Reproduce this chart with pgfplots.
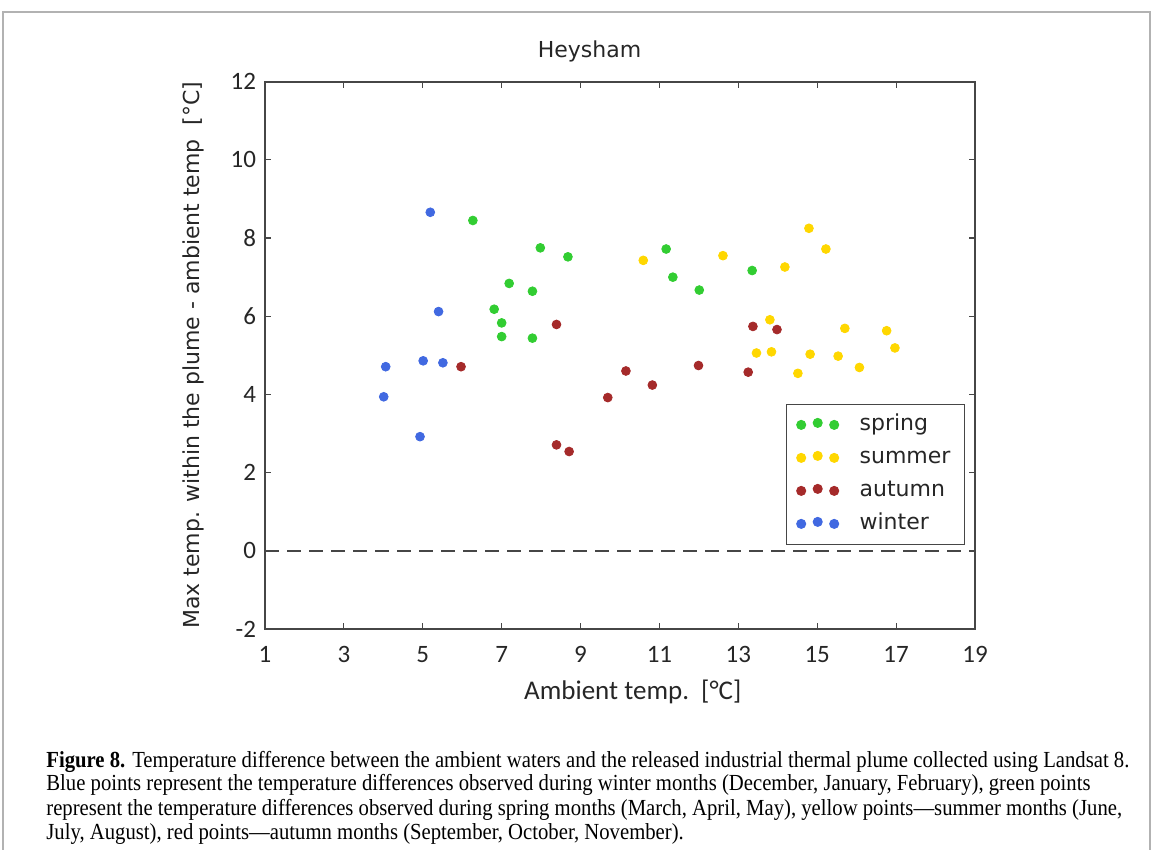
\documentclass[border=0pt]{standalone}
\usepackage{pgfplots}
\pgfplotsset{compat=1.18}
\usepackage{fontspec}
\setmainfont{DejaVu Sans}
\newfontfamily\calfont{Carlito}
\newfontfamily\capfont[FakeStretch=0.9]{Liberation Serif}
\definecolor{cspring}{RGB}{50,205,50}
\definecolor{csummer}{RGB}{255,215,0}
\definecolor{cautumn}{RGB}{165,42,42}
\definecolor{cwinter}{RGB}{65,105,225}
\definecolor{axgray}{RGB}{70,70,70}
\pgfplotstableread{
x y
6.27 8.45
7.98 7.75
8.68 7.52
7.19 6.84
7.78 6.64
6.81 6.18
7.00 5.83
7.00 5.48
7.78 5.44
11.17 7.72
11.34 7.00
12.01 6.67
13.35 7.17
}\spring
\pgfplotstableread{
x y
10.59 7.43
12.61 7.55
14.18 7.26
14.79 8.25
15.22 7.72
13.80 5.91
13.46 5.06
13.84 5.09
14.82 5.03
15.53 4.98
14.51 4.54
15.70 5.69
16.76 5.63
16.97 5.19
16.07 4.69
}\summer
\pgfplotstableread{
x y
5.97 4.71
8.39 5.79
13.37 5.74
13.98 5.66
13.25 4.57
11.99 4.74
10.15 4.60
10.82 4.24
9.69 3.92
8.39 2.71
8.71 2.54
}\autumn
\pgfplotstableread{
x y
5.19 8.66
5.40 6.12
4.06 4.71
5.01 4.86
5.51 4.81
4.01 3.94
4.93 2.92
}\winter
\begin{document}
\begin{tikzpicture}
\path[use as bounding box] (0,0) rectangle (576.5pt,-425pt);
\draw[gray!60, line width=0.8pt] (1.5pt,-425pt) -- (1.5pt,-6pt) -- (575pt,-6pt) -- (575pt,-425pt);
\node[anchor=base, font=\fontsize{11}{13}\selectfont, text=black!85] at (294.75pt,-29pt) {Heysham};
\begin{axis}[
  at={(132.5pt,-314.5pt)}, anchor=south west,
  scale only axis, width=355pt, height=273.65pt,
  xmin=1, xmax=19, ymin=-2, ymax=12,
  xtick={1,3,...,19}, ytick={-2,0,...,12},
  axis line style={axgray, line width=0.9pt},
  tick style={axgray, line width=0.6pt},
  major tick length=3pt, tick align=inside,
  /pgf/number format/assume math mode=true,
  ticklabel style={font=\calfont\fontsize{12.5}{14}\selectfont, text=black!85},
  xticklabel style={yshift=-5pt},
  yticklabel style={xshift=-1pt},
  xlabel={Ambient temp.\ \ [°C]},
  xlabel style={at={(axis description cs:0.518,-0.115)}, anchor=center, font=\calfont\fontsize{13.5}{15}\selectfont, text=black!85},
  ylabel={Max temp. within the plume - ambient temp\ \ [°C]},
  ylabel style={at={(axis description cs:-0.101,0.5)}, anchor=center, rotate=0, font=\fontsize{11}{12}\selectfont, text=black!85},
  legend style={at={(axis description cs:0.986,0.1535)}, anchor=south east,
    draw=axgray, line width=0.6pt, inner xsep=5pt, inner ysep=2pt,
    font=\fontsize{11}{13}\selectfont, text=black!85,
    nodes={text height=8.5pt, text depth=2.5pt, inner ysep=2.75pt},
    /tikz/every odd column/.append style={column sep=8.5pt}},
  legend cell align=left,
  legend image code/.code={\draw plot[only marks] coordinates {(0pt,0pt) (8.25pt,1pt) (16.5pt,0pt)};},
]
\addplot[forget plot, axgray, line width=0.7pt, dash pattern=on 7pt off 4pt] coordinates {(1,0) (19,0)};
\addplot[only marks, mark=*, mark size=2.2pt, color=cspring] table {\spring};
\addlegendentry{spring}
\addplot[only marks, mark=*, mark size=2.2pt, color=csummer] table {\summer};
\addlegendentry{summer}
\addplot[only marks, mark=*, mark size=2.2pt, color=cautumn] table {\autumn};
\addlegendentry{autumn}
\addplot[only marks, mark=*, mark size=2.2pt, color=cwinter] table {\winter};
\addlegendentry{winter}
\end{axis}
\begin{scope}[every node/.style={anchor=base west, inner sep=0pt, font=\capfont\fontsize{11.5}{12}\selectfont}]
\node at (23pt,-383.5pt) {\textbf{Figure 8.} Temperature difference between the ambient waters and the released industrial thermal plume collected using Landsat 8.};
\node at (23pt,-395.5pt) {Blue points represent the temperature differences observed during winter months (December, January, February), green points};
\node at (23pt,-407.5pt) {represent the temperature differences observed during spring months (March, April, May), yellow points—summer months (June,};
\node at (23pt,-419.5pt) {July, August), red points—autumn months (September, October, November).};
\end{scope}
\end{tikzpicture}
\end{document}
